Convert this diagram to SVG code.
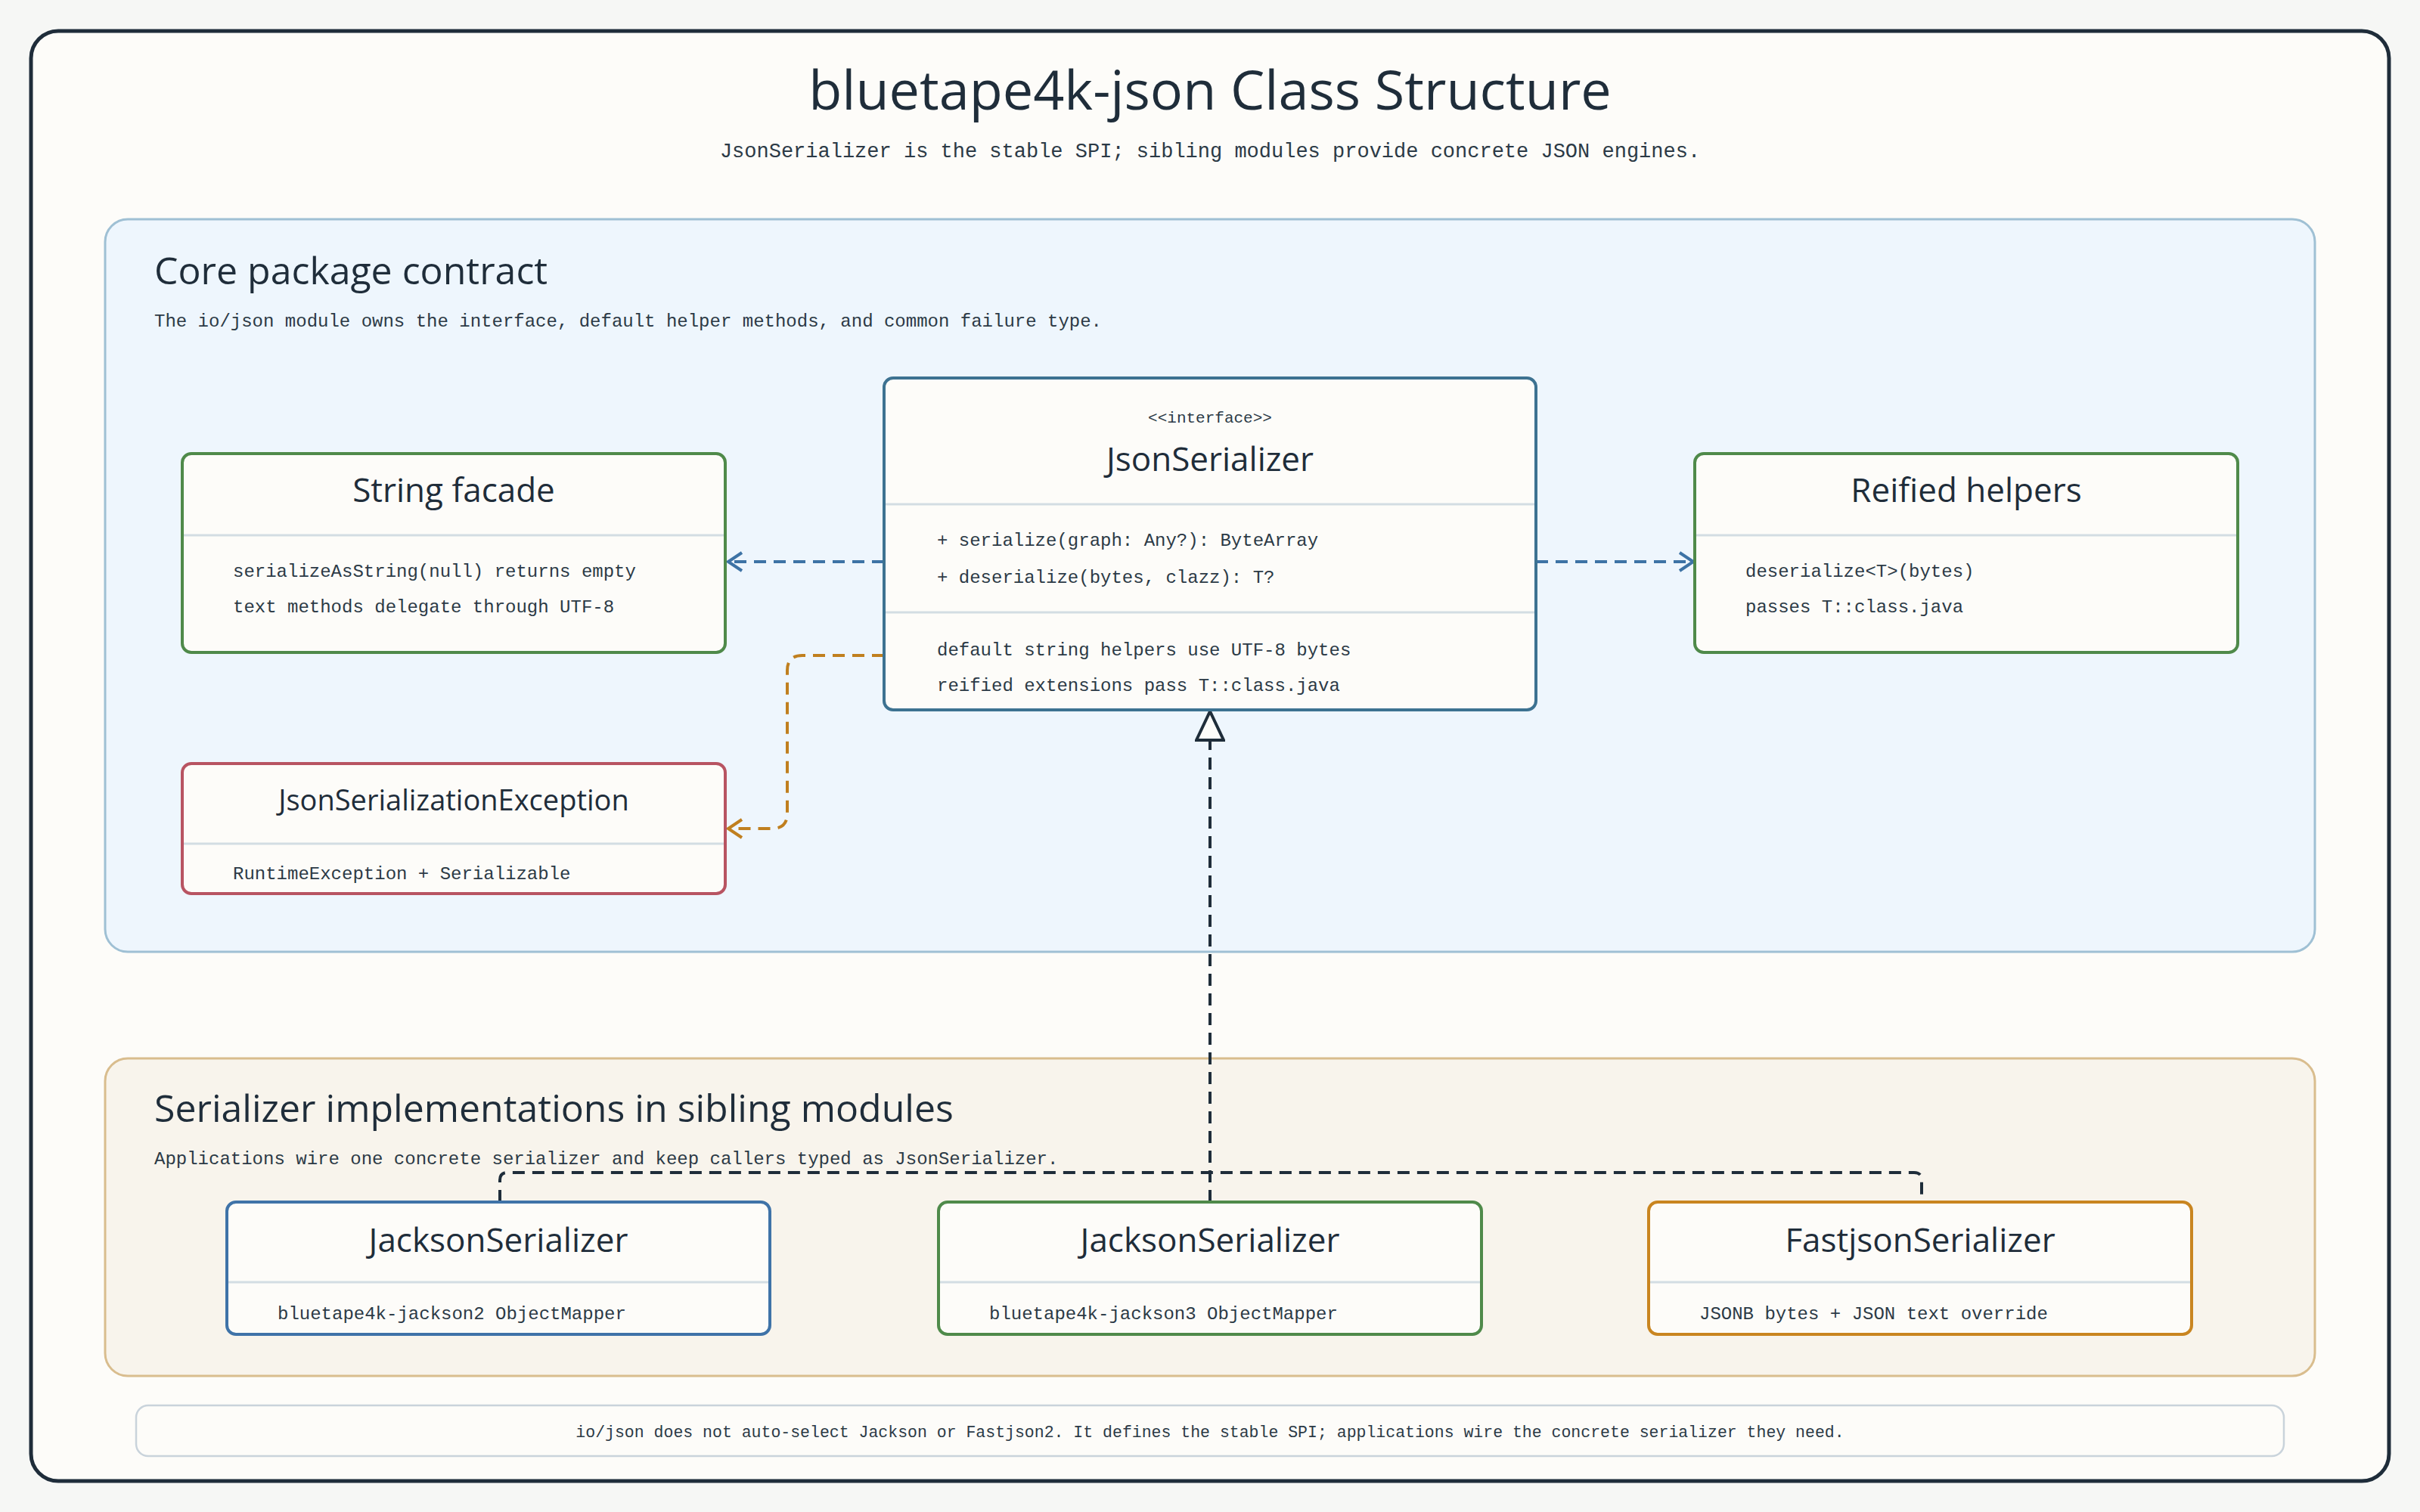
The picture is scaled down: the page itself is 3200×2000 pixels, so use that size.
<svg xmlns="http://www.w3.org/2000/svg" width="3200" height="2000" viewBox="0 0 3200 2000">
<style>
.h{font-family:"Open Sans","Liberation Sans",sans-serif;fill:#1f2d3a}
.m{font-family:"Liberation Mono","DejaVu Sans Mono",monospace;fill:#2c3a46}
.box{fill:#fdfcf9;stroke-width:4}
.div{stroke:#d3dde3;stroke-width:3}
.dash{fill:none;stroke-width:4;stroke-dasharray:16 10}
</style>
<defs>
<marker id="ab" markerWidth="24" markerHeight="28" refX="20" refY="14" orient="auto" markerUnits="userSpaceOnUse"><path d="M2,2 L20,14 L2,26" fill="none" stroke="#3d73a5" stroke-width="4"/></marker>
<marker id="ao" markerWidth="24" markerHeight="28" refX="20" refY="14" orient="auto" markerUnits="userSpaceOnUse"><path d="M2,2 L20,14 L2,26" fill="none" stroke="#c07f1e" stroke-width="4"/></marker>
<marker id="tri" markerWidth="44" markerHeight="40" refX="40" refY="20" orient="auto" markerUnits="userSpaceOnUse"><path d="M2,2 L40,20 L2,38 Z" fill="#fdfcf9" stroke="#1f2d3a" stroke-width="4"/></marker>
</defs>
<rect width="3200" height="2000" fill="#f6f7f5"/>
<rect x="41" y="41" width="3118" height="1918" rx="36" fill="#fdfcf9" stroke="#1f2d3a" stroke-width="5"/>
<text class="h" x="1600" y="145" font-size="72" text-anchor="middle">bluetape4k-json Class Structure</text>
<text class="m" x="1600" y="208" font-size="27" text-anchor="middle">JsonSerializer is the stable SPI; sibling modules provide concrete JSON engines.</text>

<g id="core-panel">
<rect x="139" y="290" width="2922" height="969" rx="30" fill="#eef6fd" stroke="#9fc0d4" stroke-width="3"/>
<text class="h" x="204" y="376" font-size="50">Core package contract</text>
<text class="m" x="204" y="432" font-size="24">The io/json module owns the interface, default helper methods, and common failure type.</text>
</g>
<g id="impl-panel">
<rect x="139" y="1400" width="2922" height="420" rx="30" fill="#f8f4ec" stroke="#d9bd8e" stroke-width="3"/>
<text class="h" x="204" y="1484" font-size="50">Serializer implementations in sibling modules</text>
<text class="m" x="204" y="1540" font-size="24">Applications wire one concrete serializer and keep callers typed as JsonSerializer.</text>
</g>

<g id="connectors">
<path class="dash" stroke="#3d73a5" d="M1169,743 H963" marker-end="url(#ab)"/>
<path class="dash" stroke="#3d73a5" d="M2031,743 H2239" marker-end="url(#ab)"/>
<path class="dash" stroke="#c07f1e" d="M1169,867 H1061 Q1041,867 1041,887 V1076 Q1041,1096 1021,1096 H963" marker-end="url(#ao)"/>
<path class="dash" stroke="#1f2d3a" d="M1600,1590 V941" marker-end="url(#tri)"/>
<path class="dash" stroke="#1f2d3a" d="M661,1590 V1561 Q661,1551 671,1551 H2531 Q2541,1551 2541,1561 V1590"/>
</g>

<g id="JsonSerializer">
<rect class="box" x="1169" y="500" width="862" height="439" rx="12" stroke="#3d7291"/>
<line class="div" x1="1171" y1="667" x2="2029" y2="667"/>
<line class="div" x1="1171" y1="810" x2="2029" y2="810"/>
<text class="m" x="1600" y="559" font-size="21" text-anchor="middle" fill="#4a5966">&lt;&lt;interface&gt;&gt;</text>
<text class="h" x="1600" y="623" font-size="44" text-anchor="middle">JsonSerializer</text>
<text class="m" x="1239" y="722" font-size="24">+ serialize(graph: Any?): ByteArray</text>
<text class="m" x="1239" y="771" font-size="24">+ deserialize(bytes, clazz): T?</text>
<text class="m" x="1239" y="867" font-size="24">default string helpers use UTF-8 bytes</text>
<text class="m" x="1239" y="914" font-size="24">reified extensions pass T::class.java</text>
</g>
<g id="StringFacade">
<rect class="box" x="241" y="600" width="718" height="263" rx="12" stroke="#4f8a4a"/>
<line class="div" x1="243" y1="708" x2="957" y2="708"/>
<text class="h" x="600" y="664" font-size="44" text-anchor="middle">String facade</text>
<text class="m" x="308" y="763" font-size="24">serializeAsString(null) returns empty</text>
<text class="m" x="308" y="810" font-size="24">text methods delegate through UTF-8</text>
</g>
<g id="ReifiedHelpers">
<rect class="box" x="2241" y="600" width="718" height="263" rx="12" stroke="#4f8a4a"/>
<line class="div" x1="2243" y1="708" x2="2957" y2="708"/>
<text class="h" x="2600" y="664" font-size="44" text-anchor="middle">Reified helpers</text>
<text class="m" x="2308" y="763" font-size="24">deserialize&lt;T&gt;(bytes)</text>
<text class="m" x="2308" y="810" font-size="24">passes T::class.java</text>
</g>
<g id="JsonSerializationException">
<rect class="box" x="241" y="1010" width="718" height="172" rx="12" stroke="#b85462"/>
<line class="div" x1="243" y1="1116" x2="957" y2="1116"/>
<text class="h" x="600" y="1072" font-size="38" text-anchor="middle">JsonSerializationException</text>
<text class="m" x="308" y="1163" font-size="24">RuntimeException + Serializable</text>
</g>
<g id="Jackson2">
<rect class="box" x="300" y="1590" width="718" height="175" rx="12" stroke="#3f73a8"/>
<line class="div" x1="302" y1="1696" x2="1016" y2="1696"/>
<text class="h" x="659" y="1656" font-size="44" text-anchor="middle">JacksonSerializer</text>
<text class="m" x="367" y="1745" font-size="24">bluetape4k-jackson2 ObjectMapper</text>
</g>
<g id="Jackson3">
<rect class="box" x="1241" y="1590" width="718" height="175" rx="12" stroke="#4f8a4a"/>
<line class="div" x1="1243" y1="1696" x2="1957" y2="1696"/>
<text class="h" x="1600" y="1656" font-size="44" text-anchor="middle">JacksonSerializer</text>
<text class="m" x="1308" y="1745" font-size="24">bluetape4k-jackson3 ObjectMapper</text>
</g>
<g id="Fastjson">
<rect class="box" x="2180" y="1590" width="718" height="175" rx="12" stroke="#c98520"/>
<line class="div" x1="2182" y1="1696" x2="2896" y2="1696"/>
<text class="h" x="2539" y="1656" font-size="44" text-anchor="middle">FastjsonSerializer</text>
<text class="m" x="2247" y="1745" font-size="24">JSONB bytes + JSON text override</text>
</g>
<g id="footer">
<rect x="180" y="1859" width="2840" height="67" rx="16" fill="#fdfcf9" stroke="#c9d3db" stroke-width="2.5"/>
<text class="m" x="1600" y="1901" font-size="21.5" text-anchor="middle" fill="#4a5966">io/json does not auto-select Jackson or Fastjson2. It defines the stable SPI; applications wire the concrete serializer they need.</text>
</g>
</svg>
